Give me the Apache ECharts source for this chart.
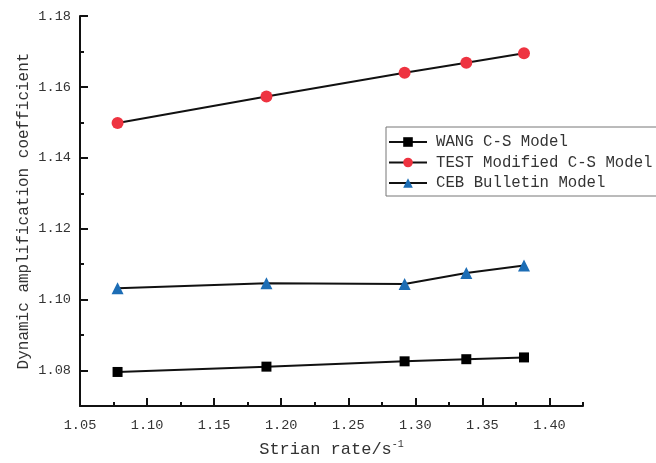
<!DOCTYPE html>
<html>
<head>
<meta charset="utf-8">
<script src="https://cdn.jsdelivr.net/npm/echarts@6/dist/echarts.min.js"></script>
<style>
  html, body { margin: 0; padding: 0; background: #fff; }
  #chart { width: 656px; height: 463px; }
</style>
</head>
<body>
<div id="chart"></div>
<script>
// strain rate (x) and the three models
const strainRate = [1.078, 1.189, 1.292, 1.338, 1.381];
const wangCS = [1.0796, 1.0811, 1.0826, 1.0832, 1.0837];
const testModified = [1.1498, 1.1573, 1.1640, 1.1668, 1.1695];
const cebBulletin = [1.1032, 1.1046, 1.1044, 1.1075, 1.1096];

const seriesNames = ['WANG C-S Model', 'TEST Modified C-S Model', 'CEB Bulletin Model'];

// axis ticks
const xMajorTicks = [1.05, 1.10, 1.15, 1.20, 1.25, 1.30, 1.35, 1.40];
const xMinorTicks = [1.075, 1.125, 1.175, 1.225, 1.275, 1.325, 1.375, 1.425];
const yMajorTicks = [1.08, 1.10, 1.12, 1.14, 1.16, 1.18];
const yMinorTicks = [1.09, 1.11, 1.13, 1.15, 1.17];

const font = 'Liberation Mono';
const textColor = '#333';

const pairs = (ys) => strainRate.map((x, i) => [x, ys[i]]);

const chart = echarts.init(document.getElementById('chart'));

const lineBase = {
  type: 'line',
  lineStyle: { color: '#111', width: 2 },
  emphasis: { disabled: true },
  animation: false
};

chart.setOption({
  backgroundColor: '#fff',
  grid: { left: 80, right: 73, top: 16, bottom: 57 },
  legend: {
    orient: 'vertical',
    left: 386,
    top: 127,
    itemWidth: 38,
    itemHeight: 12,
    itemGap: 4.5,
    padding: [7, 6, 5, 2],
    borderColor: '#777',
    borderWidth: 1,
    backgroundColor: '#fff',
    textStyle: { fontFamily: font, fontSize: 15.7, color: textColor, padding: [0, 0, 0, 4] },
    data: seriesNames
  },
  xAxis: [{
    type: 'value',
    min: 1.05,
    max: 1.425,
    name: '{a|Strian rate/s}{b|-1}',
    nameLocation: 'middle',
    nameGap: 33,
    nameTextStyle: {
      rich: {
        a: { fontFamily: font, fontSize: 17, color: textColor, lineHeight: 20 },
        b: { fontFamily: font, fontSize: 10, color: textColor, verticalAlign: 'top', lineHeight: 12 }
      }
    },
    axisLine: { show: true, lineStyle: { color: '#111', width: 2 } },
    axisTick: { show: true, inside: true, length: 8, lineStyle: { width: 2, color: '#111' }, customValues: xMajorTicks },
    axisLabel: {
      customValues: xMajorTicks,
      formatter: (v) => v.toFixed(2),
      fontFamily: font, fontSize: 13.6, color: textColor, margin: 12
    },
    splitLine: { show: false }
  }, {
    type: 'value',
    min: 1.05,
    max: 1.425,
    position: 'bottom',
    axisLine: { show: false },
    axisTick: { show: true, inside: true, length: 4, lineStyle: { width: 2, color: '#111' }, customValues: xMinorTicks },
    axisLabel: { show: false },
    splitLine: { show: false }
  }],
  yAxis: [{
    type: 'value',
    min: 1.07,
    max: 1.18,
    name: 'Dynamic amplification coefficient',
    nameLocation: 'middle',
    nameGap: 48,
    nameMoveOverlap: false,
    nameTextStyle: { fontFamily: font, fontSize: 16, color: textColor },
    axisLine: { show: true, lineStyle: { color: '#111', width: 2 } },
    axisTick: { show: true, inside: true, length: 8, lineStyle: { width: 2, color: '#111' }, customValues: yMajorTicks },
    axisLabel: {
      customValues: yMajorTicks,
      formatter: (v) => v.toFixed(2),
      fontFamily: font, fontSize: 13.6, color: textColor, margin: 9
    },
    splitLine: { show: false }
  }, {
    type: 'value',
    min: 1.07,
    max: 1.18,
    position: 'left',
    axisLine: { show: false },
    axisTick: { show: true, inside: true, length: 4, lineStyle: { width: 2, color: '#111' }, customValues: yMinorTicks },
    axisLabel: { show: false },
    splitLine: { show: false }
  }],
  series: [
    Object.assign({}, lineBase, {
      name: seriesNames[0],
      data: pairs(wangCS),
      symbol: 'rect',
      symbolSize: 10,
      itemStyle: { color: '#000' }
    }),
    Object.assign({}, lineBase, {
      name: seriesNames[1],
      data: pairs(testModified),
      symbol: 'circle',
      symbolSize: 12,
      itemStyle: { color: '#ee3340' }
    }),
    Object.assign({}, lineBase, {
      name: seriesNames[2],
      data: pairs(cebBulletin),
      symbol: 'triangle',
      symbolSize: 12,
      itemStyle: { color: '#1c6db5' }
    })
  ]
});
</script>
</body>
</html>
